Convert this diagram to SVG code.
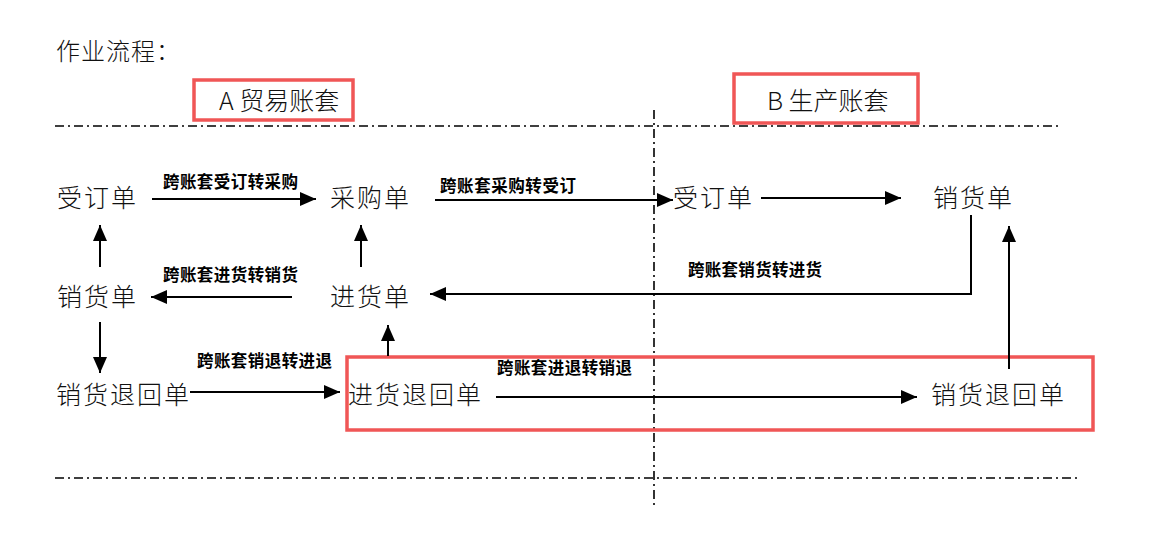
<svg xmlns="http://www.w3.org/2000/svg" width="1157" height="535" viewBox="0 0 1157 535">
<style>
.t{font-family:"Noto Sans CJK SC","Liberation Serif",serif;font-size:25px;font-weight:300;fill:#111}
.h{font-family:"Noto Sans CJK SC","Liberation Serif",serif;font-size:24px;font-weight:300;fill:#111}
.l{font-family:"Noto Sans CJK SC","Liberation Sans",sans-serif;font-size:16.5px;font-weight:700;fill:#000}
.c{stroke:#000;stroke-width:2;fill:none}
.dd{stroke:#000;stroke-width:1.6;fill:none;stroke-dasharray:9 4 2 4}
.rb{fill:none;stroke:#f05656;stroke-width:3.5}
</style>
<defs>
<marker id="ah" viewBox="0 0 10 10" refX="10" refY="5" markerWidth="8" markerHeight="7" markerUnits="strokeWidth" orient="auto" preserveAspectRatio="none">
<path d="M0,0 L10,5 L0,10 Z" fill="#000"/>
</marker>
</defs>
<rect width="1157" height="535" fill="#fff"/>
<text class="h" x="56" y="60" letter-spacing="1">作业流程：</text>
<g id="frame">
<line class="dd" x1="55" y1="126" x2="1062" y2="126"/>
<line class="dd" x1="55" y1="478" x2="1077" y2="478"/>
<line class="dd" x1="654" y1="110" x2="654" y2="506"/>
</g>
<g id="boxA"><rect class="rb" x="194" y="80" width="159" height="40"/><text class="t" x="219" y="110">A 贸易账套</text></g>
<g id="boxB"><rect class="rb" x="734" y="74" width="184" height="49"/><text class="t" x="767" y="110">B 生产账套</text></g>
<g id="boxReturn"><rect class="rb" x="347" y="357" width="746" height="73"/></g>
<g id="n1"><text class="t" x="57" y="207" letter-spacing="2">受订单</text></g>
<g id="n2"><text class="t" x="330" y="207" letter-spacing="2">采购单</text></g>
<g id="n3"><text class="t" x="673" y="207" letter-spacing="2">受订单</text></g>
<g id="n4"><text class="t" x="933" y="207" letter-spacing="2">销货单</text></g>
<g id="n5"><text class="t" x="57" y="306" letter-spacing="2">销货单</text></g>
<g id="n6"><text class="t" x="330" y="306" letter-spacing="2">进货单</text></g>
<g id="n7"><text class="t" x="56" y="404" letter-spacing="2">销货退回单</text></g>
<g id="n8"><text class="t" x="348" y="404" letter-spacing="2">进货退回单</text></g>
<g id="n9"><text class="t" x="931" y="404" letter-spacing="2">销货退回单</text></g>
<g id="connectors">
<line class="c" x1="152" y1="199" x2="316" y2="199" marker-end="url(#ah)"/>
<line class="c" x1="435" y1="200" x2="673" y2="200" marker-end="url(#ah)"/>
<line class="c" x1="761" y1="198" x2="901" y2="198" marker-end="url(#ah)"/>
<polyline class="c" points="971,215 971,294 430,294" marker-end="url(#ah)"/>
<line class="c" x1="292" y1="297" x2="151" y2="297" marker-end="url(#ah)"/>
<line class="c" x1="100" y1="267" x2="100" y2="225" marker-end="url(#ah)"/>
<line class="c" x1="361" y1="267" x2="361" y2="225" marker-end="url(#ah)"/>
<line class="c" x1="100" y1="322" x2="100" y2="373" marker-end="url(#ah)"/>
<line class="c" x1="388" y1="356" x2="388" y2="325" marker-end="url(#ah)"/>
<line class="c" x1="190" y1="392" x2="340" y2="392" marker-end="url(#ah)"/>
<line class="c" x1="496" y1="397" x2="917" y2="397" marker-end="url(#ah)"/>
<line class="c" x1="1009" y1="369" x2="1009" y2="226" marker-end="url(#ah)"/>
</g>
<g id="labels">
<text class="l" x="163" y="188" textLength="135">跨账套受订转采购</text>
<text class="l" x="440" y="192" textLength="136">跨账套采购转受订</text>
<text class="l" x="163" y="281" textLength="135">跨账套进货转销货</text>
<text class="l" x="688" y="276" textLength="134">跨账套销货转进货</text>
<text class="l" x="197" y="367" textLength="135">跨账套销退转进退</text>
<text class="l" x="497" y="374" textLength="135">跨账套进退转销退</text>
</g>
</svg>
